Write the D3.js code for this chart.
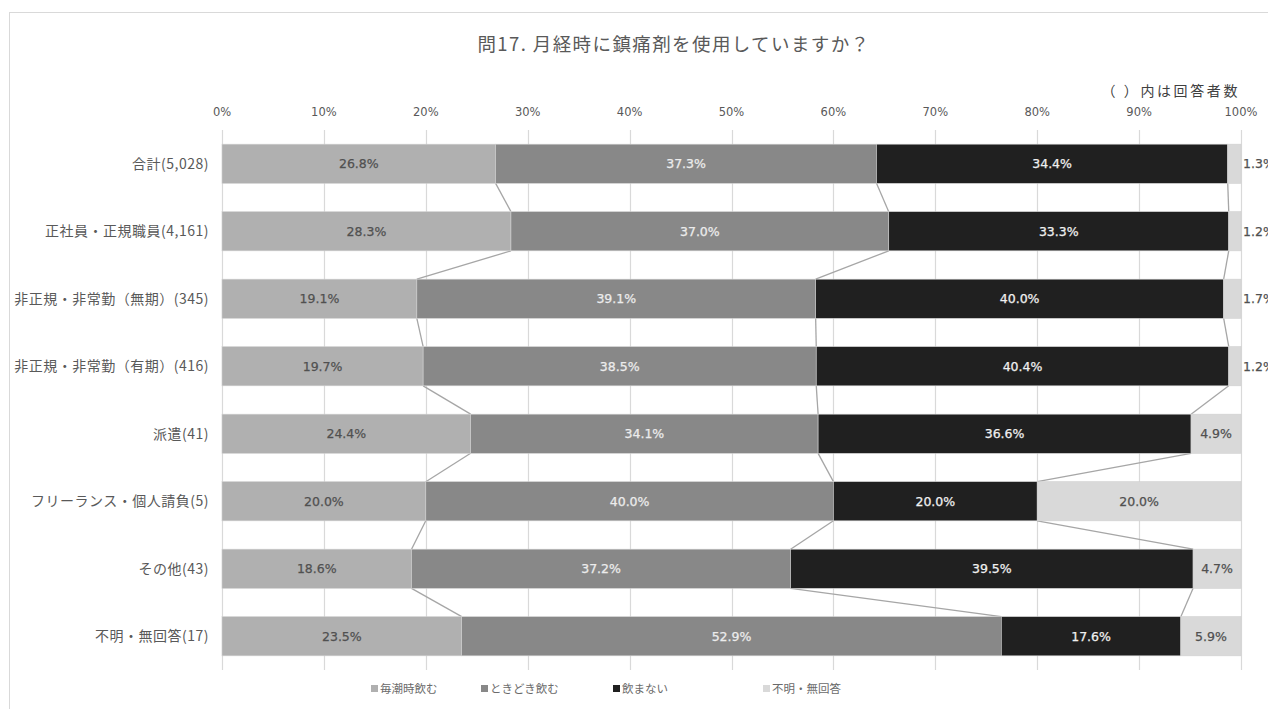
<!DOCTYPE html>
<html><head><meta charset="utf-8">
<script src="https://cdn.jsdelivr.net/npm/d3@7"></script>
<style>
html,body{margin:0;padding:0;background:#fff;overflow:hidden;}
svg{display:block;font-family:"Noto Sans CJK JP","Noto Sans",sans-serif;}
</style></head>
<body>
<svg id="c" width="1268" height="709"></svg>
<script>
const categories = ["合計(5,028)","正社員・正規職員(4,161)","非正規・非常勤（無期）(345)","非正規・非常勤（有期）(416)","派遣(41)","フリーランス・個人請負(5)","その他(43)","不明・無回答(17)"];
const seriesNames = ["毎潮時飲む","ときどき飲む","飲まない","不明・無回答"];
const always = [26.8,28.3,19.1,19.7,24.4,20.0,18.6,23.5];
const sometimes = [37.3,37.0,39.1,38.5,34.1,40.0,37.2,52.9];
const never = [34.4,33.3,40.0,40.4,36.6,20.0,39.5,17.6];
const unknown = [1.3,1.2,1.7,1.2,4.9,20.0,4.7,5.9];
const tickLabels = ["0%","10%","20%","30%","40%","50%","60%","70%","80%","90%","100%"];

const colors = ["#b0b0b0","#888888","#202020","#d9d9d9"];
const labelColors = ["#505050","#ececec","#f0f0f0","#505050"];
const seriesVals = [always, sometimes, never, unknown];

const svg = d3.select("#c");
const x0=222, x1=1241, yTop=130, yBot=670;
const numFont = "Verdana, 'DejaVu Sans', sans-serif";

// frame
svg.append("rect").attr("x",9.5).attr("y",12.5).attr("width",1300).attr("height",800)
  .attr("fill","none").attr("stroke","#d9d9d9").attr("stroke-width",1);

svg.append("text").attr("x",674).attr("y",51).attr("text-anchor","middle")
  .attr("font-size",18.5).attr("letter-spacing",1.4).attr("fill","#595959").text("問17.  月経時に鎮痛剤を使用していますか？");
svg.append("text").attr("x",1240).attr("y",96).attr("text-anchor","end")
  .attr("font-size",14).attr("letter-spacing",2.6).attr("fill","#404040").text("（ ）内は回答者数");

const x = d3.scaleLinear().domain([0,1]).range([x0,x1]);
const y = d3.scaleBand().domain(categories).range([yTop,yBot]).paddingInner(0.42).paddingOuter(0.21);

// gridlines
const ticks = d3.range(0,1.0001,0.1);
svg.append("g").selectAll("line").data(ticks).join("line")
  .attr("x1",d=>Math.round(x(d))+0.5).attr("x2",d=>Math.round(x(d))+0.5)
  .attr("y1",yTop).attr("y2",yBot).attr("stroke","#d9d9d9").attr("stroke-width",1.2);
svg.append("g").selectAll("text").data(ticks).join("text")
  .attr("x",d=>x(d)).attr("y",116).attr("text-anchor","middle")
  .attr("font-family",numFont)
  .attr("font-size",11.5).attr("fill","#595959").text((d,i)=>tickLabels[i]);

// stack data normalized (100% stacked)
const rows = categories.map((c,i)=>{
  const vals = seriesVals.map(s=>s[i]);
  const tot = d3.sum(vals);
  let acc=0;
  return vals.map((v,k)=>{const s={cat:c,k,v,start:acc/tot,end:(acc+v)/tot}; acc+=v; return s;});
});

const bh = y.bandwidth();
// series lines
for(let k=0;k<3;k++){
  for(let i=0;i<categories.length-1;i++){
    const a=rows[i][k].end, b=rows[i+1][k].end;
    svg.append("line").attr("x1",x(a)).attr("y1",y(categories[i])+bh)
      .attr("x2",x(b)).attr("y2",y(categories[i+1]))
      .attr("stroke","#a6a6a6").attr("stroke-width",1.3);
  }
}

// bars
const g = svg.append("g");
rows.forEach(r=>{
  r.forEach(s=>{
    g.append("rect").attr("x",x(s.start)).attr("y",y(s.cat))
      .attr("width",x(s.end)-x(s.start)).attr("height",bh)
      .attr("fill",colors[s.k]).attr("stroke","#d0d0d0").attr("stroke-width",0.6);
    const w = x(s.end)-x(s.start);
    const small = w<30;
    g.append("text")
      .attr("x", small ? x1+2 : (x(s.start)+x(s.end))/2)
      .attr("y", y(s.cat)+bh/2+4.5)
      .attr("text-anchor", small ? "start":"middle")
      .attr("font-family",numFont)
      .attr("font-size",12.5)
      .attr("fill", small ? "#505050" : labelColors[s.k])
      .attr("stroke", small ? "#505050" : labelColors[s.k]).attr("stroke-width",0.25)
      .text(s.v.toFixed(1)+"%");
  });
});

// category labels
svg.append("g").selectAll("text").data(categories).join("text")
  .attr("x",209).attr("y",d=>y(d)+bh/2+5).attr("text-anchor","end")
  .attr("font-size",14).attr("letter-spacing",0.5).attr("fill","#595959").text(d=>d);

// legend
const legX=[371,481,613,763];
seriesNames.forEach((n,k)=>{
  svg.append("rect").attr("x",legX[k]).attr("y",685).attr("width",7).attr("height",7).attr("fill",colors[k]);
  svg.append("text").attr("x",legX[k]+9).attr("y",692.5).attr("font-size",11.5).attr("fill","#6a6a6a").text(n);
});
</script>
</body></html>
